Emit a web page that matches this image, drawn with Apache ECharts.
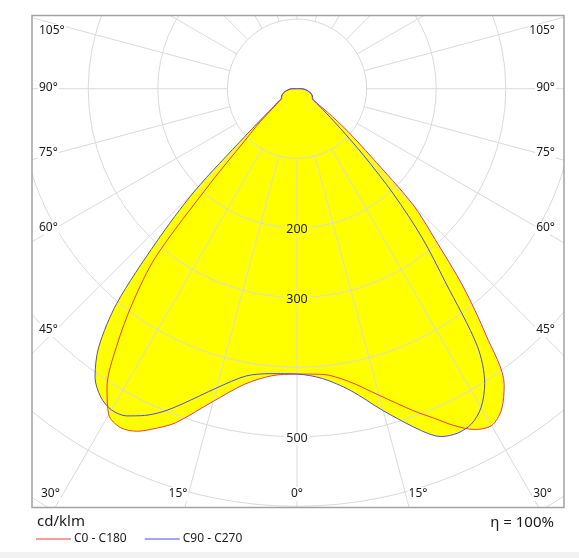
<!DOCTYPE html>
<html>
<head>
<meta charset="utf-8">
<script src="https://cdn.jsdelivr.net/npm/echarts@6/dist/echarts.min.js"></script>
<style>
html,body{margin:0;padding:0;background:#fff;}
#chart{width:579px;height:558px;}
</style>
</head>
<body>
<div id="chart"></div>
<script>
// gamma angles (degrees from nadir)
const gamma = [0, 5, 10, 15, 20, 22.5, 25, 27.5, 30, 32.5, 35, 37.5, 40, 42.5, 45, 47.5, 50, 52.5, 55, 57.5, 60, 65, 70, 75, 80, 85, 90, 95, 180];
// luminous intensity, cd/klm
const c0   = [410, 412, 427, 456, 493, 512, 534, 552, 559, 547, 519, 446, 372, 294, 236, 145, 95, 55, 29, 26, 25.5, 24, 21.5, 18.5, 14.5, 11, 6, 0, 0];
const c180 = [410, 414, 431, 465, 511, 528, 543, 549, 541, 508, 452, 388, 316, 184, 108, 77, 52, 37, 30, 26, 25.5, 24, 21.5, 18.5, 14.5, 11, 6, 0, 0];
const c90  = [410, 418, 440, 479, 523, 541, 546, 543, 529, 502, 452, 350, 280, 205, 135, 85, 56, 40, 30, 27, 26, 24.5, 22, 19, 15, 11.5, 6.5, 0, 0];
const c270 = [410, 411, 419, 445, 482, 502, 518, 530, 533, 525, 506, 468, 403, 300, 208, 102, 62, 42, 35, 27, 26, 24.5, 22, 19, 15, 11.5, 6.5, 0, 0];
// ring labels shown
const ringLabels = [200, 300, 500];
// angle labels
const sideAngles = ['105°', '90°', '75°', '60°', '45°', '30°'];
const bottomAngles = ['15°', '0°', '15°'];
const seriesNames = ['C0 - C180', 'C90 - C270'];
const unitText = 'cd/klm';
const etaText = 'η = 100%';

const RED = '#f03c3c';
const BLUE = '#4b4bf0';
const FONT = '"Noto Sans", "DejaVu Sans", sans-serif';
const SMOOTH = 0.3;

function buildCurve(leftVals, rightVals) {
  const pts = [];
  for (let i = gamma.length - 1; i >= 0; i--) pts.push([leftVals[i], gamma[i]]);
  for (let i = 1; i < gamma.length; i++) pts.push([rightVals[i], -gamma[i]]);
  return pts;
}
const curveA = buildCurve(c180, c0);
const curveB = buildCurve(c270, c90);

const CX = 297, CY = 88.7, PX_PER_100 = 69.6;
const box = {x: 32, y: 15.5, w: 532, h: 492};

const chart = echarts.init(document.getElementById('chart'), null, {renderer: 'canvas'});

const option = {
  backgroundColor: '#ffffff',
  animation: false,
  polar: [
    {center: [CX, CY], radius: [PX_PER_100, PX_PER_100 * 7]},
    {center: [CX, CY], radius: [0, PX_PER_100 * 7]}
  ],
  angleAxis: [
    {polarIndex: 0, type: 'value', min: -180, max: 180, interval: 15, startAngle: 90, clockwise: true,
     axisLine: {show: false}, axisTick: {show: false}, axisLabel: {show: false},
     splitLine: {show: true, lineStyle: {color: '#dadada', width: 1}}, z: 3},
    {polarIndex: 1, type: 'value', min: -180, max: 180, startAngle: 90, clockwise: true, show: false,
     axisLine: {show: false}, axisTick: {show: false}, axisLabel: {show: false}, splitLine: {show: false}}
  ],
  radiusAxis: [
    {polarIndex: 0, type: 'value', min: 100, max: 700, interval: 100,
     axisLine: {show: false}, axisTick: {show: false}, axisLabel: {show: false},
     splitLine: {show: true, lineStyle: {color: '#dadada', width: 1}}, z: 3},
    {polarIndex: 1, type: 'value', min: 0, max: 700, show: false,
     axisLine: {show: false}, axisTick: {show: false}, axisLabel: {show: false}, splitLine: {show: false}}
  ],
  legend: {
    data: seriesNames,
    left: 31, top: 528,
    icon: 'rect', itemWidth: 35, itemHeight: 1, itemGap: 18,
    textStyle: {fontFamily: FONT, fontSize: 12, color: '#1a1a1a', padding: [0, 0, 0, -2]},
    z: 120
  },
  series: [
    {name: 'fillA', type: 'line', coordinateSystem: 'polar', polarIndex: 1, data: curveA, smooth: SMOOTH,
     symbol: 'none', lineStyle: {width: 0, opacity: 0}, areaStyle: {color: '#ffff00', opacity: 1},
     z: 1, silent: true, clip: false},
    {name: 'fillB', type: 'line', coordinateSystem: 'polar', polarIndex: 1, data: curveB, smooth: SMOOTH,
     symbol: 'none', lineStyle: {width: 0, opacity: 0}, areaStyle: {color: '#ffff00', opacity: 1},
     z: 1, silent: true, clip: false},
    {name: seriesNames[0], type: 'line', coordinateSystem: 'polar', polarIndex: 1, data: curveA, smooth: SMOOTH,
     symbol: 'none', color: RED, lineStyle: {color: RED, width: 1}, z: 5, clip: false},
    {name: seriesNames[1], type: 'line', coordinateSystem: 'polar', polarIndex: 1, data: curveB, smooth: SMOOTH,
     symbol: 'none', color: BLUE, lineStyle: {color: BLUE, width: 1}, z: 5, clip: false}
  ]
};
chart.setOption(option);

// overlay: mask outside the frame, frame, labels
const g = [];
g.push({type: 'rect', shape: {x: 0, y: 0, width: 579, height: box.y}, style: {fill: '#fff'}, z: 100, silent: true});
g.push({type: 'rect', shape: {x: 0, y: 0, width: box.x, height: 558}, style: {fill: '#fff'}, z: 100, silent: true});
g.push({type: 'rect', shape: {x: box.x + box.w, y: 0, width: 579 - box.x - box.w, height: 558}, style: {fill: '#fff'}, z: 100, silent: true});
g.push({type: 'rect', shape: {x: 0, y: box.y + box.h, width: 579, height: 558 - box.y - box.h}, style: {fill: '#fff'}, z: 100, silent: true});
g.push({type: 'rect', shape: {x: 0, y: 552, width: 579, height: 6}, style: {fill: '#f2f2f2'}, z: 100, silent: true});
g.push({type: 'rect', shape: {x: box.x, y: box.y, width: box.w, height: box.h}, style: {fill: 'none', stroke: '#a3a3a3', lineWidth: 1.5}, z: 101, silent: true});

const sideY = [31, 88, 153, 228, 330, 494];
sideAngles.forEach((t, i) => {
  const lx = i === 5 ? 40 : 38;
  const rx = i === 5 ? 553 : 556;
  g.push({type: 'text', x: lx, y: sideY[i], z: 102, silent: true,
    style: {text: t, fill: '#1a1a1a', font: '12px ' + FONT, align: 'left', verticalAlign: 'middle', backgroundColor: '#fff', padding: [1, 1]}});
  g.push({type: 'text', x: rx, y: sideY[i], z: 102, silent: true,
    style: {text: t, fill: '#1a1a1a', font: '12px ' + FONT, align: 'right', verticalAlign: 'middle', backgroundColor: '#fff', padding: [1, 1]}});
});
const bottomX = [178, 297, 418];
bottomAngles.forEach((t, i) => {
  g.push({type: 'text', x: bottomX[i], y: 494, z: 102, silent: true,
    style: {text: t, fill: '#1a1a1a', font: '12px ' + FONT, align: 'center', verticalAlign: 'middle', backgroundColor: '#fff', padding: [1, 1]}});
});

ringLabels.forEach(v => {
  let p;
  try { p = chart.convertToPixel({seriesIndex: 2}, [v, 0]); } catch (e) { p = null; }
  if (!p) return;
  const inside = v < c0[0];
  g.push({type: 'text', x: p[0], y: p[1] + 1.5, z: 6, silent: true,
    style: {text: String(v), fill: '#1a1a1a', font: '12.5px ' + FONT, align: 'center', verticalAlign: 'middle',
      backgroundColor: inside ? '#ffff00' : '#ffffff', padding: [0, 2]}});
});

g.push({type: 'text', x: 37, y: 522, z: 102, silent: true,
  style: {text: unitText, fill: '#1a1a1a', font: '15px ' + FONT, align: 'left', verticalAlign: 'middle'}});
g.push({type: 'text', x: 554, y: 523, z: 102, silent: true,
  style: {text: etaText, fill: '#1a1a1a', font: '15px ' + FONT, align: 'right', verticalAlign: 'middle'}});

chart.setOption({graphic: {elements: g}});
</script>
</body>
</html>
